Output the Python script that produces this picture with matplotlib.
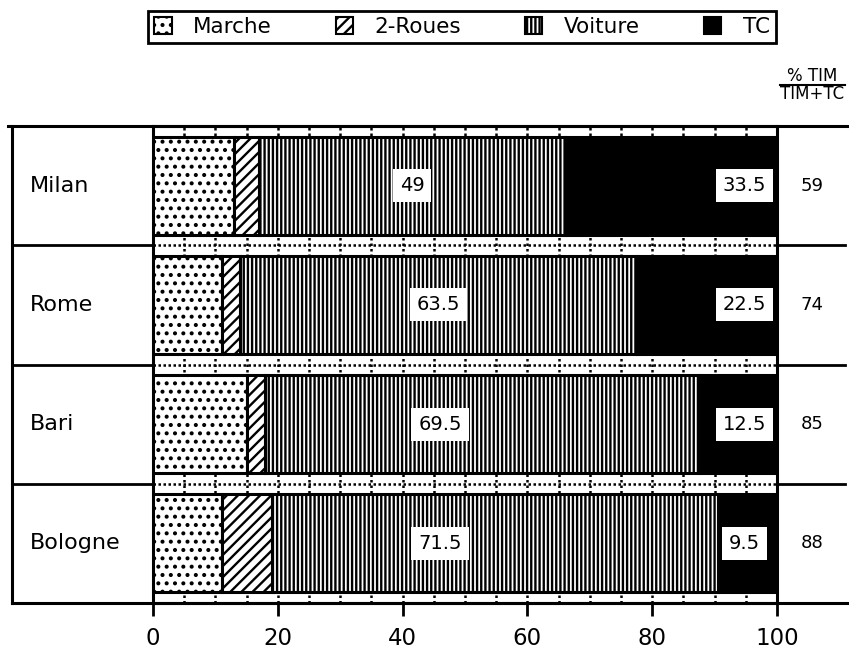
import matplotlib
matplotlib.use("Agg")
import matplotlib.pyplot as plt
import matplotlib.transforms as mtransforms
from matplotlib.patches import Patch
from matplotlib.lines import Line2D
import numpy as np

plt.rcParams['font.family'] = ['DejaVu Sans']
plt.rcParams['hatch.linewidth'] = 1.7

# data
cities = ['Milan', 'Rome', 'Bari', 'Bologne']
marche = [13, 11, 15, 11]
deux_roues = [4, 3, 3, 8]
voiture = [49, 63.5, 69.5, 71.5]
tc = [33.5, 22.5, 12.5, 9.5]
pct_tim = [59, 74, 85, 88]
modes = ['Marche', '2-Roues', 'Voiture', 'TC']

W, H = 849, 648
fig = plt.figure(figsize=(W / 100, H / 100), dpi=100)

# axes placement in pixels
x0, x1 = 153, 777
ytop, ybot = 126, 603
ax = fig.add_axes([x0 / W, 1 - ybot / H, (x1 - x0) / W, (ybot - ytop) / H])

y = np.arange(len(cities))
styles = [
    dict(facecolor='white', hatch='..'),
    dict(facecolor='white', hatch='///'),
    dict(facecolor='white', hatch='||||'),
    dict(facecolor='black', hatch=None),
]
left = np.zeros(len(cities))
for vals, st in zip([marche, deux_roues, voiture, tc], styles):
    ax.barh(y, vals, left=left, height=0.82, edgecolor='black', linewidth=2.2,
            zorder=3, **st)
    left = left + np.array(vals)

ax.set_xlim(0, 100)
ax.set_ylim(3.5, -0.5)
ax.set_xticks(np.arange(0, 101, 20))
ax.set_xticks(np.arange(0, 101, 5), minor=True)
ax.set_yticks([])
ax.set_axisbelow(True)
ax.grid(which='both', axis='x', color='black', linestyle=(0, (1, 1.2)), linewidth=1.8, zorder=0)
for sep in [0.5, 1.5, 2.5]:
    ax.axhline(sep, color='black', linestyle=(0, (1, 1)), linewidth=1.8, zorder=1)
ax.tick_params(axis='x', which='major', direction='out', length=9, width=2,
               labelsize=16.5, pad=8)
ax.tick_params(axis='x', which='minor', length=0)
for sp in ax.spines.values():
    sp.set_linewidth(2.2)

# value labels
for i in range(len(cities)):
    start = marche[i] + deux_roues[i]
    xv = min(start + voiture[i] / 2, 46)
    ax.text(xv, i, f'{voiture[i]:g}', ha='center', va='center', fontsize=14, zorder=5,
            bbox=dict(facecolor='white', edgecolor='none', pad=5))
    ax.text(94.8, i, f'{tc[i]:g}', ha='center', va='center', fontsize=14, zorder=5,
            bbox=dict(facecolor='white', edgecolor='none', pad=5))

# frame lines outside the axes
trans = mtransforms.blended_transform_factory(fig.transFigure, ax.transData)
lx, rx = 12 / W, 845 / W
for sep in [0.5, 1.5, 2.5]:
    fig.add_artist(Line2D([lx, x0 / W], [sep, sep], transform=trans, color='black', lw=2))
    fig.add_artist(Line2D([x1 / W, rx], [sep, sep], transform=trans, color='black', lw=2))
fig.add_artist(Line2D([8 / W, 1.0], [1 - ytop / H] * 2, color='black', lw=2.2))
fig.add_artist(Line2D([lx, 1.0], [1 - ybot / H] * 2, color='black', lw=2.2))
fig.add_artist(Line2D([lx, lx], [1 - ytop / H, 1 - ybot / H], color='black', lw=2.2))

# row labels and right column
for i, (c, p) in enumerate(zip(cities, pct_tim)):
    fig.text(30 / W, i, c, transform=trans, ha='left', va='center', fontsize=16)
    fig.text(812 / W, i, str(p), transform=trans, ha='center', va='center', fontsize=13)

fig.text(812 / W, 1 - 76 / H, '% TIM', ha='center', va='center', fontsize=12)
fig.add_artist(Line2D([780 / W, 845 / W], [1 - 85 / H] * 2, color='black', lw=1.5))
fig.text(812 / W, 1 - 94 / H, 'TIM+TC', ha='center', va='center', fontsize=12)

# legend
handles = [Patch(edgecolor='black', linewidth=1.5, **st) for st in styles]
leg = fig.legend(handles, modes, loc='center', ncol=4, mode='expand',
                 bbox_to_anchor=(148 / W, 1 - 46 / H, 628 / W, 38 / H),
                 fancybox=False, edgecolor='black', framealpha=1, fontsize=15.5,
                 handlelength=0.8, handleheight=0.8, handletextpad=1.0,
                 borderaxespad=0, borderpad=0.3)
leg.get_frame().set_linewidth(2)

fig.savefig('out.png', dpi=100)
